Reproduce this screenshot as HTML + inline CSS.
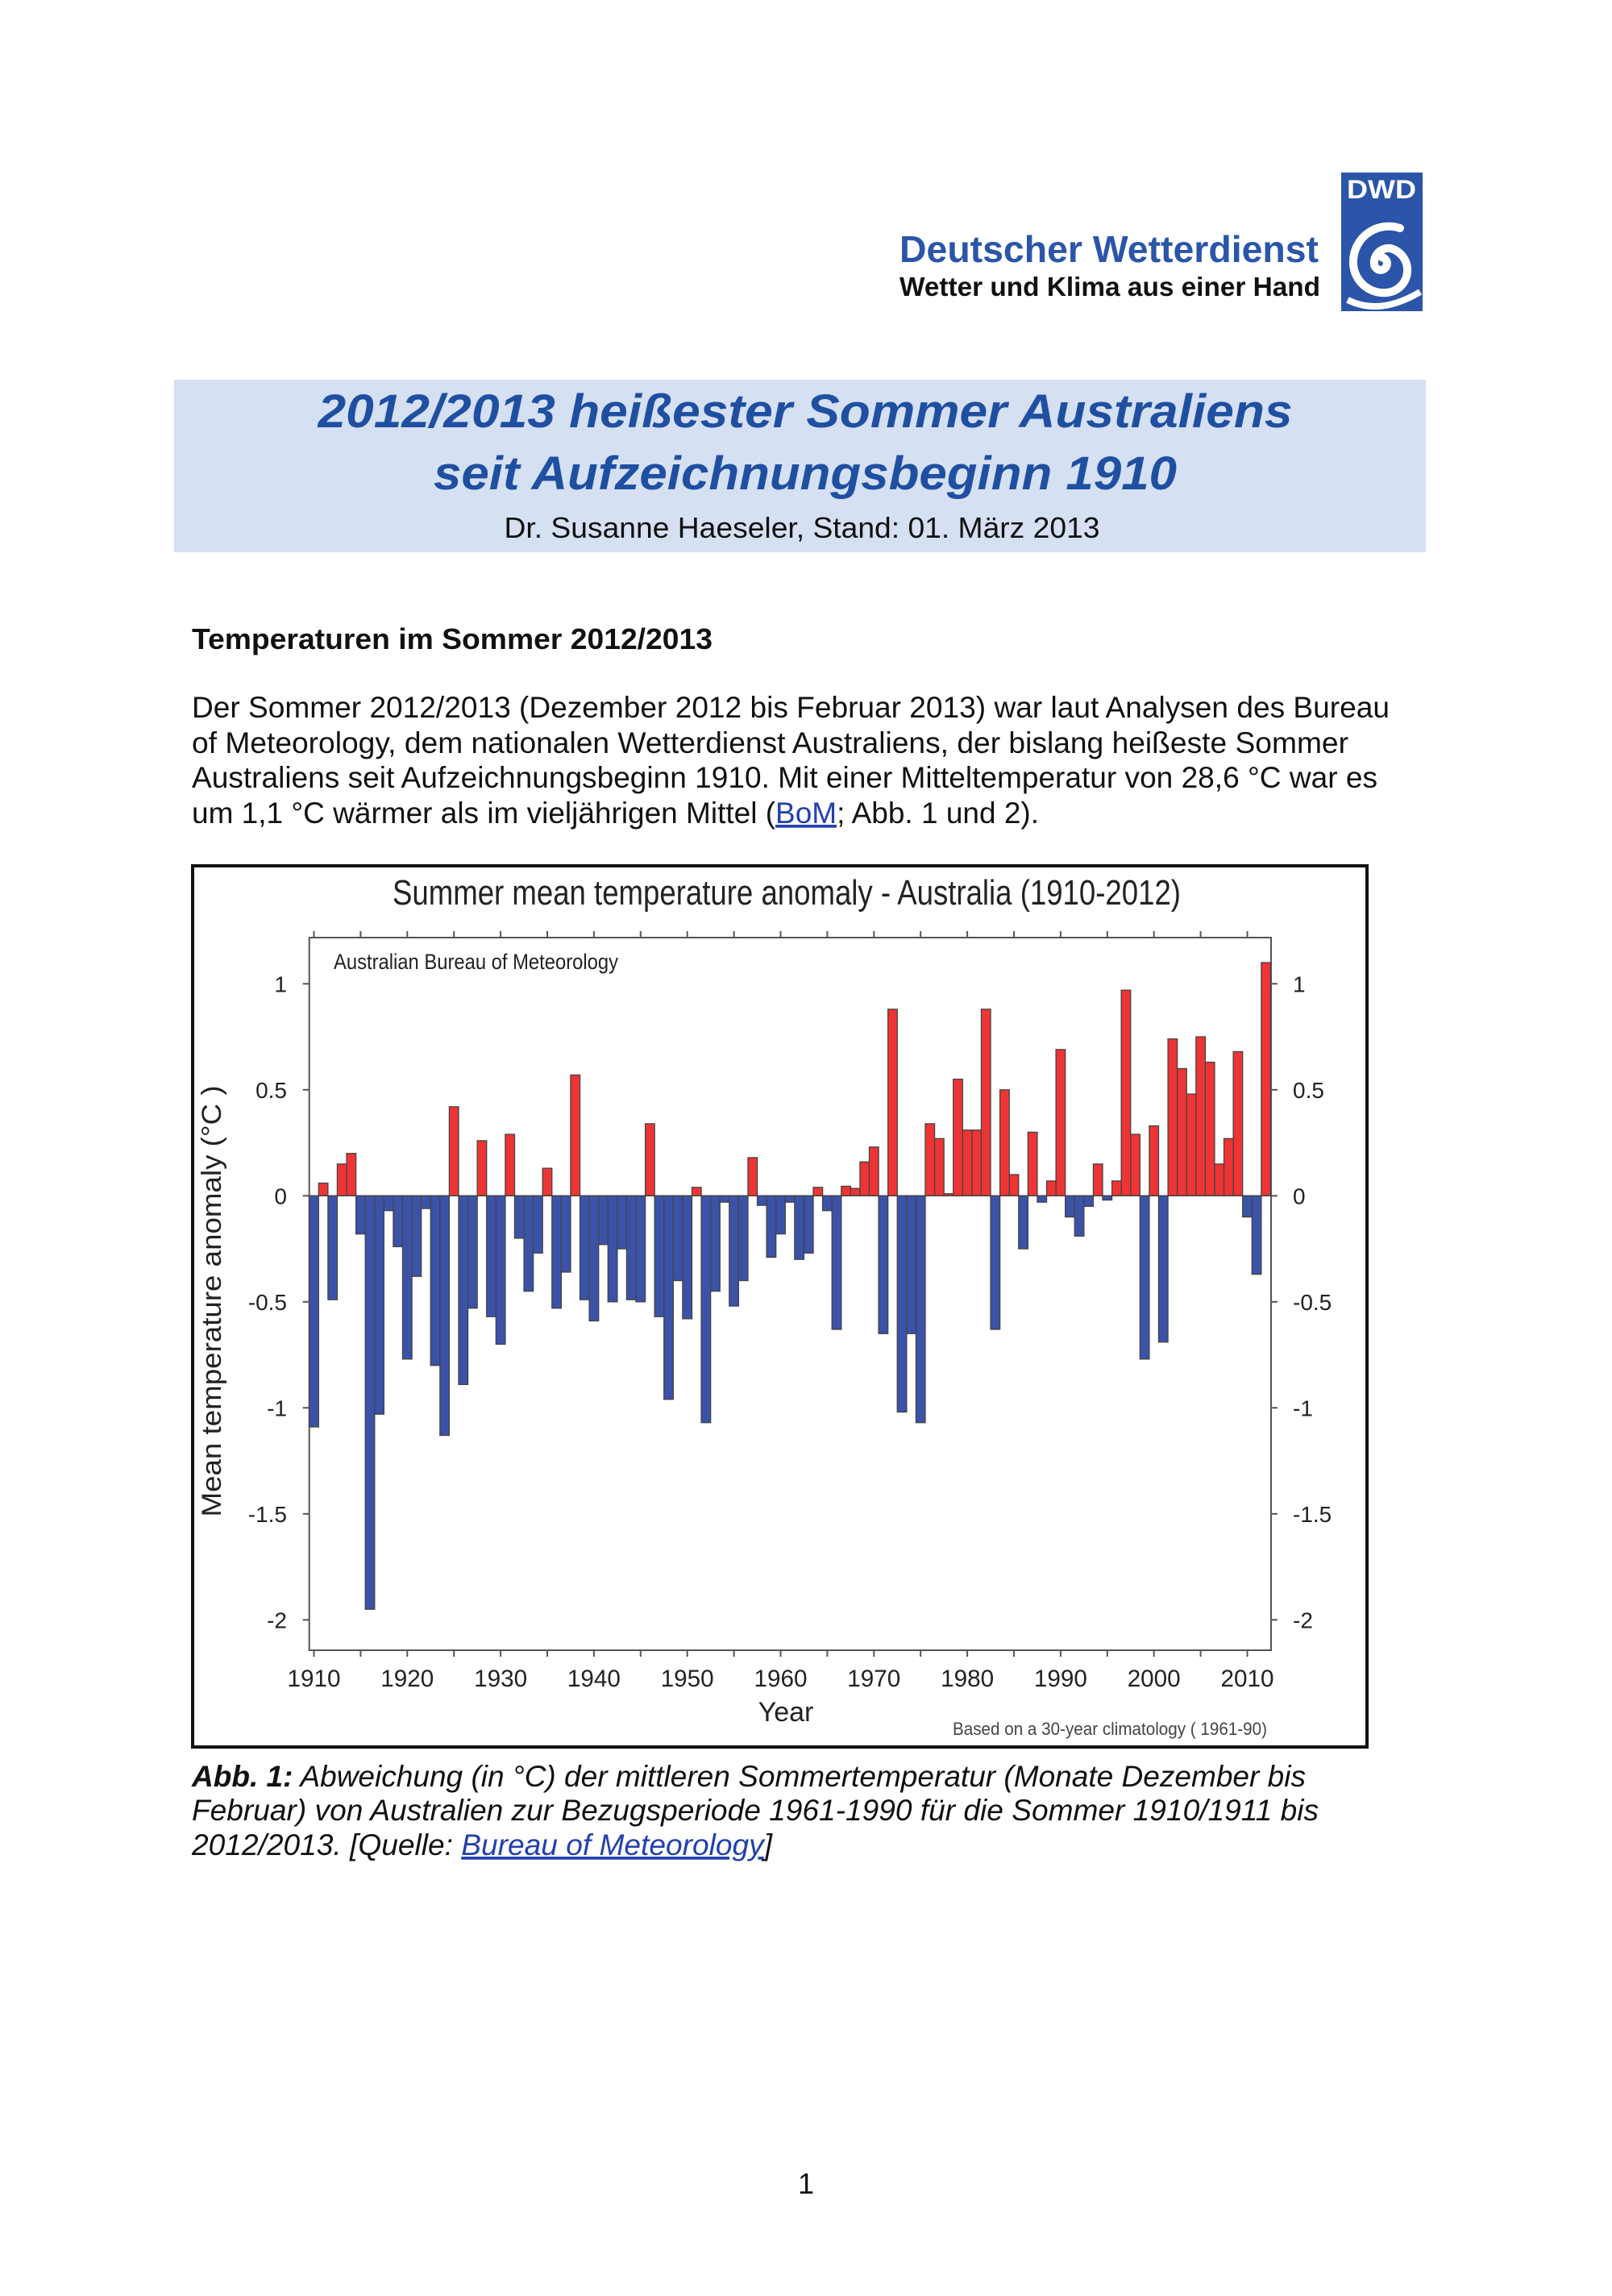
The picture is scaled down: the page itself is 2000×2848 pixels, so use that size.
<!DOCTYPE html>
<html><head><meta charset="utf-8"><title>DWD – Sommer Australien 2012/2013</title>
<style>
html,body{margin:0;padding:0;background:#fff;}
svg{display:block;}
text{font-family:"Liberation Sans",Arial,sans-serif;}
</style></head>
<body>
<svg id="page" width="2000" height="2848" viewBox="0 0 2000 2848" xmlns="http://www.w3.org/2000/svg">
  <!-- Header logo -->
  <g>
    <text x="1116" y="325" font-size="46" font-weight="bold" fill="#2b55a8" textLength="520" lengthAdjust="spacingAndGlyphs">Deutscher Wetterdienst</text>
    <text x="1116" y="367" font-size="33" font-weight="bold" fill="#111" textLength="522" lengthAdjust="spacingAndGlyphs">Wetter und Klima aus einer Hand</text>
    <rect x="1664" y="214" width="101" height="172" fill="#2b55a8"/>
    <text x="1714" y="246" font-size="32" font-weight="bold" fill="#fff" text-anchor="middle" textLength="86" lengthAdjust="spacingAndGlyphs">DWD</text>
    <path d="M1714 325 m0 -6 a8 8 0 1 1 -9 9 a18 18 0 0 1 20 -20 a28 28 0 0 1 -4 55 a38 38 0 0 1 -42 -40 a44 44 0 0 1 58 -40" fill="none" stroke="#fff" stroke-width="10" stroke-linecap="round"/>
    <path d="M1672 372 q40 20 90 -10" fill="none" stroke="#fff" stroke-width="8"/>
  </g>

  <!-- Title box -->
  <rect x="216" y="471" width="1553" height="214" fill="#d5e0f3"/>
  <text x="999" y="530" font-size="58" font-weight="bold" font-style="italic" fill="#1f4fa0" text-anchor="middle" textLength="1209" lengthAdjust="spacingAndGlyphs">2012/2013 heißester Sommer Australiens</text>
  <text x="999" y="607" font-size="58" font-weight="bold" font-style="italic" fill="#1f4fa0" text-anchor="middle" textLength="922" lengthAdjust="spacingAndGlyphs">seit Aufzeichnungsbeginn 1910</text>
  <text x="995" y="667" font-size="36" fill="#111" text-anchor="middle" textLength="739" lengthAdjust="spacingAndGlyphs">Dr. Susanne Haeseler, Stand: 01. März 2013</text>

  <!-- Section heading and paragraph -->
  <text x="238" y="805" font-size="36" font-weight="bold" fill="#111" textLength="646" lengthAdjust="spacingAndGlyphs">Temperaturen im Sommer 2012/2013</text>
  <g font-size="37" fill="#111">
    <text x="238" y="890" textLength="1486" lengthAdjust="spacingAndGlyphs">Der Sommer 2012/2013 (Dezember 2012 bis Februar 2013) war laut Analysen des Bureau</text>
    <text x="238" y="934" textLength="1435" lengthAdjust="spacingAndGlyphs">of Meteorology, dem nationalen Wetterdienst Australiens, der bislang heißeste Sommer</text>
    <text x="238" y="977" textLength="1471" lengthAdjust="spacingAndGlyphs">Australiens seit Aufzeichnungsbeginn 1910. Mit einer Mitteltemperatur von 28,6 °C war es</text>
    <text x="238" y="1021" textLength="1051" lengthAdjust="spacingAndGlyphs">um 1,1 °C wärmer als im vieljährigen Mittel (<tspan fill="#2340b0" text-decoration="underline">BoM</tspan>; Abb. 1 und 2).</text>
  </g>

  <!-- Chart -->
  <rect x="239" y="1074" width="1457" height="1093" fill="#fff" stroke="#111" stroke-width="4"/>
  <text x="976" y="1122" font-size="44" fill="#222" text-anchor="middle" textLength="978" lengthAdjust="spacingAndGlyphs">Summer mean temperature anomaly - Australia (1910-2012)</text>
  <g id="chart"></g>

  <!-- Caption -->
  <g font-size="37" font-style="italic" fill="#111">
    <text x="238" y="2216" textLength="1382" lengthAdjust="spacingAndGlyphs"><tspan font-weight="bold">Abb. 1:</tspan> Abweichung (in °C) der mittleren Sommertemperatur (Monate Dezember bis</text>
    <text x="238" y="2258" textLength="1398" lengthAdjust="spacingAndGlyphs">Februar) von Australien zur Bezugsperiode 1961-1990 für die Sommer 1910/1911 bis</text>
    <text x="238" y="2301" textLength="720" lengthAdjust="spacingAndGlyphs">2012/2013. [Quelle: <tspan fill="#2340b0" text-decoration="underline">Bureau of Meteorology</tspan>]</text>
  </g>

  <text x="1000" y="2721" font-size="36" fill="#111" text-anchor="middle">1</text>
</svg>
<script>
const startYear = 1910;
const anomalies = [
 -1.09, 0.06, -0.49, 0.15, 0.20, -0.18, -1.95, -1.03, -0.07, -0.24,
 -0.77, -0.38, -0.06, -0.80, -1.13, 0.42, -0.89, -0.53, 0.26, -0.57,
 -0.70, 0.29, -0.20, -0.45, -0.27, 0.13, -0.53, -0.36, 0.57, -0.49,
 -0.59, -0.23, -0.50, -0.25, -0.49, -0.50, 0.34, -0.57, -0.96, -0.40,
 -0.58, 0.04, -1.07, -0.45, -0.03, -0.52, -0.40, 0.18, -0.045, -0.29,
 -0.18, -0.03, -0.30, -0.27, 0.04, -0.07, -0.63, 0.045, 0.035, 0.16,
 0.23, -0.65, 0.88, -1.02, -0.65, -1.07, 0.34, 0.27, 0.01, 0.55,
 0.31, 0.31, 0.88, -0.63, 0.50, 0.10, -0.25, 0.30, -0.03, 0.07,
 0.69, -0.10, -0.19, -0.05, 0.15, -0.02, 0.07, 0.97, 0.29, -0.77,
 0.33, -0.69, 0.74, 0.60, 0.48, 0.75, 0.63, 0.15, 0.27, 0.68,
 -0.10, -0.37, 1.10
];
const yTicks = [1, 0.5, 0, -0.5, -1, -1.5, -2];
const yTickLabels = ["1", "0.5", "0", "-0.5", "-1", "-1.5", "-2"];
const xTickYears = [1910, 1920, 1930, 1940, 1950, 1960, 1970, 1980, 1990, 2000, 2010];

const NS = "http://www.w3.org/2000/svg";
const g = document.getElementById('chart');
const PX_PER_YEAR = 11.58, X0 = 389.5;
const Y0 = 1483.3, PX_PER_UNIT = 263;
const plotL = 383.7, plotR = 1577, plotT = 1163, plotB = 2047;
function xScale(year){ return X0 + (year - startYear) * PX_PER_YEAR; }
function yScale(v){ return Y0 - v * PX_PER_UNIT; }
function mk(tag, attrs){ const e = document.createElementNS(NS, tag); for (const k in attrs) e.setAttribute(k, attrs[k]); g.appendChild(e); return e; }

const plotBg = mk('rect', {x: plotL, y: plotT, width: plotR - plotL, height: plotB - plotT, fill: '#fff', stroke: '#555', 'stroke-width': 2});



const credit = mk('text', {x: 414, y: 1202, 'font-size': 27, fill: '#222', textLength: 353, lengthAdjust: 'spacingAndGlyphs'});
credit.textContent = 'Australian Bureau of Meteorology';



anomalies.forEach((v, i) => {
  const yr = startYear + i;
  const cx = xScale(yr);
  const y1 = yScale(Math.max(v, 0)), y2 = yScale(Math.min(v, 0));
  const r = mk('rect', {x: cx - PX_PER_YEAR / 2, y: y1, width: PX_PER_YEAR, height: Math.max(y2 - y1, 1), fill: v >= 0 ? '#ee3434' : '#3a52a8', stroke: '#444', 'stroke-width': 1.3});
  
  
});
const zl = mk('line', {x1: plotL, x2: plotR, y1: yScale(0), y2: yScale(0), stroke: '#444', 'stroke-width': 1.5});



yTicks.forEach((v, i) => {
  const y = yScale(v);
  const tl = mk('line', {x1: plotL - 8, x2: plotL, y1: y, y2: y, stroke: '#555', 'stroke-width': 2});
  
  
  const tr = mk('line', {x1: plotR, x2: plotR + 8, y1: y, y2: y, stroke: '#555', 'stroke-width': 2});
  
  
  const l = mk('text', {x: 356, y: y + 10, 'font-size': 28, fill: '#222', 'text-anchor': 'end'});
  l.textContent = yTickLabels[i];
  
  
  const r = mk('text', {x: 1604, y: y + 10, 'font-size': 28, fill: '#222'});
  r.textContent = yTickLabels[i];
  
  
});

for (let yr = startYear; yr <= 2010; yr += 5) {
  const x = xScale(yr);
  const t1 = mk('line', {x1: x, x2: x, y1: plotT - 8, y2: plotT, stroke: '#555', 'stroke-width': 2});
  
  
  const t2 = mk('line', {x1: x, x2: x, y1: plotB, y2: plotB + 8, stroke: '#555', 'stroke-width': 2});
  
  
}
xTickYears.forEach(yr => {
  const t = mk('text', {x: xScale(yr), y: 2092, 'font-size': 30, fill: '#222', 'text-anchor': 'middle', textLength: 66, lengthAdjust: 'spacingAndGlyphs'});
  t.textContent = String(yr);
  
  
});

const xt = mk('text', {x: 975, y: 2135, 'font-size': 34, fill: '#222', 'text-anchor': 'middle'});
xt.textContent = 'Year';



const yt = mk('text', {x: 0, y: 0, 'font-size': 34, fill: '#222', 'text-anchor': 'middle', transform: 'translate(274,1614) rotate(-90)', textLength: 535, lengthAdjust: 'spacingAndGlyphs'});
yt.textContent = 'Mean temperature anomaly (°C )';



const note = mk('text', {x: 1182, y: 2152, 'font-size': 22, fill: '#444', textLength: 390, lengthAdjust: 'spacingAndGlyphs'});
note.textContent = 'Based on a 30-year climatology ( 1961-90)';


</script>
</body></html>
